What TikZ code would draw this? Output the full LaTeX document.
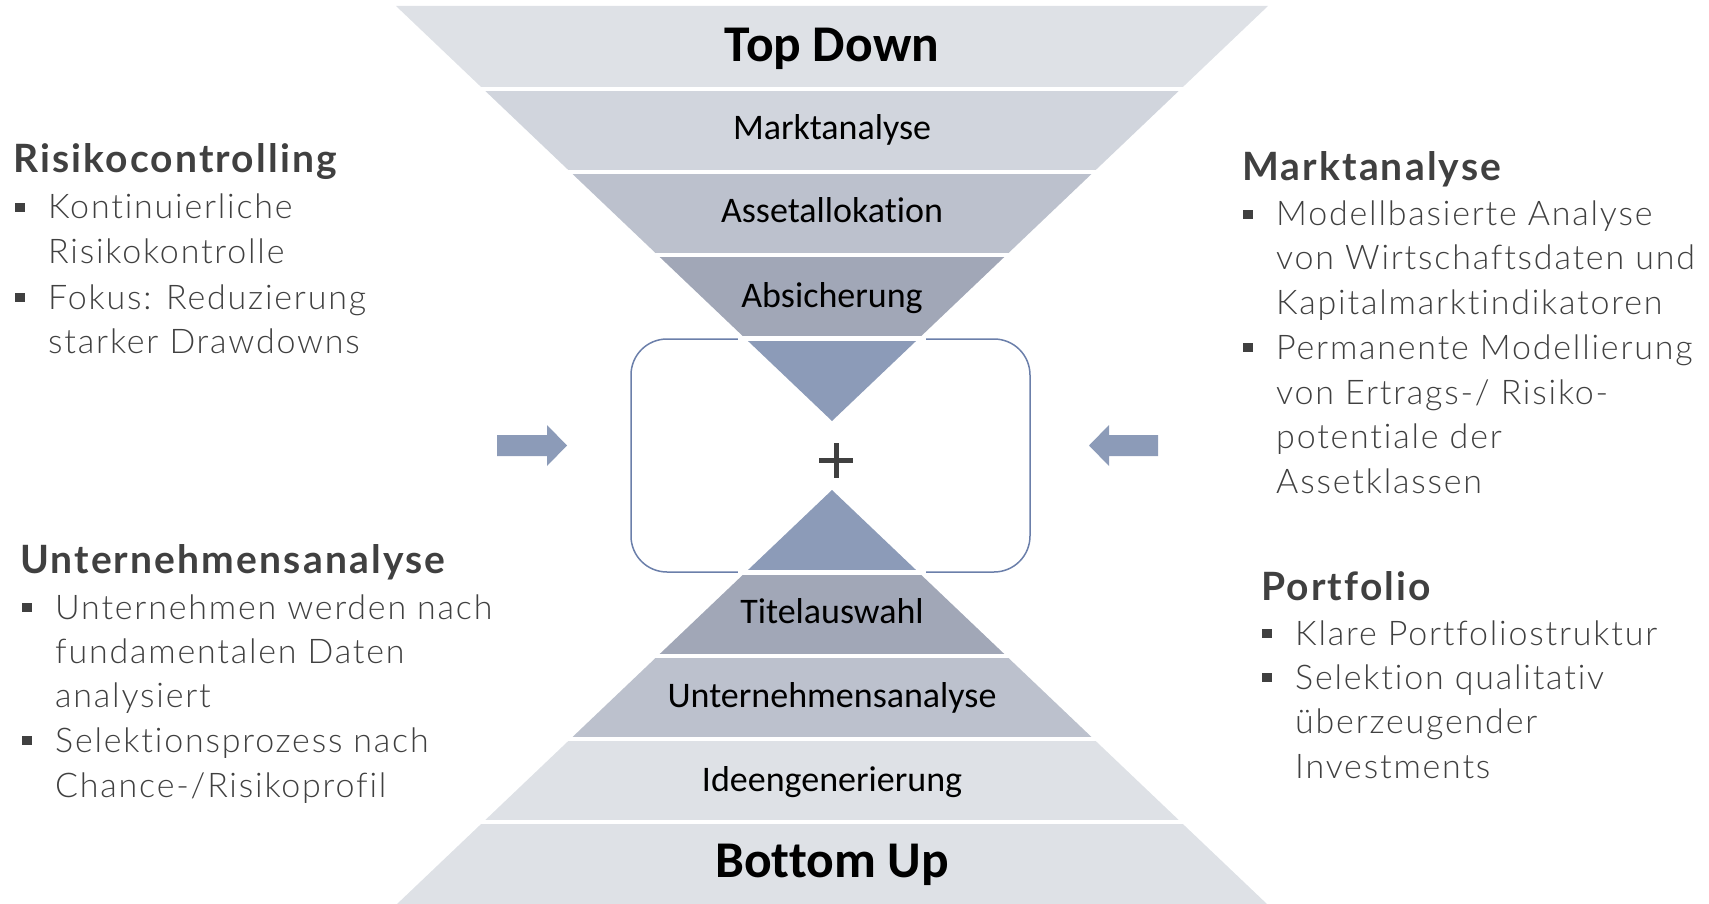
\documentclass[tikz,border=0pt]{standalone}
\usepackage{fontspec}
\newfontfamily\calfont{Carlito}[Ligatures=NoCommon]
\IfFontExistsTF{Lato Light}{\newfontfamily\bodyfont{Lato Light}[LetterSpace=5.3,Ligatures=NoCommon]}{\newfontfamily\bodyfont{Lato}[LetterSpace=5.3,Ligatures=NoCommon]}
\newfontfamily\headfont{Lato}[LetterSpace=5.5,Ligatures=NoCommon]
\definecolor{bandA}{HTML}{DEE1E6}
\definecolor{bandB}{HTML}{D1D5DD}
\definecolor{bandC}{HTML}{BCC1CD}
\definecolor{bandD}{HTML}{A1A7B7}
\definecolor{bandE}{HTML}{8C9BB8}
\definecolor{boxline}{HTML}{6B7FAA}
\definecolor{txt}{HTML}{404040}
\tikzset{
  bandtext/.style={anchor=base, font={\calfont\fontsize{36}{40}\selectfont}, text=black, inner sep=0pt},
  bigtext/.style={anchor=base, font={\calfont\bfseries\fontsize{51.5}{56}\selectfont}, text=black, inner sep=0pt},
  head/.style={anchor=base west, font={\headfont\bfseries\fontsize{39}{42}\selectfont}, text=txt, inner sep=0pt},
  item/.style={anchor=base west, font={\bodyfont\fontsize{34}{40}\selectfont}, text=txt, inner sep=0pt},
  bullet/.style={fill=txt, minimum size=9.5pt, inner sep=0pt, outer sep=0pt},
  sep/.style={white, line width=4.5pt},
  blockarrow/.style={fill=bandE}
}
\begin{document}
\begin{tikzpicture}[x=1pt, y=-1pt]
\useasboundingbox (0,0) rectangle (1709,904);

% central rounded box
\draw[boxline, line width=1.5pt, rounded corners=36pt] (631,339) rectangle (1030,572);

% top inverted pyramid
\fill[bandA] (396,6) -- (1268,6) -- (1180.8,89) -- (483.2,89) -- cycle;
\fill[bandB] (483.2,89) -- (1180.8,89) -- (1093.6,172) -- (570.4,172) -- cycle;
\fill[bandC] (570.4,172) -- (1093.6,172) -- (1006.4,255) -- (657.6,255) -- cycle;
\fill[bandD] (657.6,255) -- (1006.4,255) -- (919.2,338) -- (744.8,338) -- cycle;
\fill[bandE] (744.8,338) -- (919.2,338) -- (832,421) -- cycle;

% bottom pyramid
\fill[bandE] (832,490) -- (919.2,573) -- (744.8,573) -- cycle;
\fill[bandD] (744.8,573) -- (919.2,573) -- (1006.4,656) -- (657.6,656) -- cycle;
\fill[bandC] (657.6,656) -- (1006.4,656) -- (1093.6,739) -- (570.4,739) -- cycle;
\fill[bandA] (570.4,739) -- (1093.6,739) -- (1180.8,822) -- (483.2,822) -- cycle;
\fill[bandA] (483.2,822) -- (1180.8,822) -- (1268,905) -- (396,905) -- cycle;

% white separators
\draw[sep] (477,89) -- (1187,89);
\draw[sep] (564,172) -- (1100,172);
\draw[sep] (651,255) -- (1013,255);
\draw[sep] (738,338.5) -- (926,338.5);
\draw[sep] (738,572.5) -- (926,572.5);
\draw[sep] (651,656) -- (1013,656);
\draw[sep] (564,739) -- (1100,739);
\draw[sep] (477,822) -- (1187,822);

% band texts
\node[bigtext]  (td)  at (832,62)  {Top Down};
\node[bandtext] (ma)  at (832,140) {Marktanalyse};
\node[bandtext] (aa)  at (832,223) {Assetallokation};
\node[bandtext] (ab)  at (832,307) {Absicherung};
\node[bandtext] (ta)  at (832,623) {Titelauswahl};
\node[bandtext] (ua)  at (832,707) {Unternehmensanalyse};
\node[bandtext] (ig)  at (832,791) {Ideengenerierung};
\node[bigtext]  (bu)  at (832,877) {Bottom Up};

% plus sign
\fill[txt] (819,458) rectangle (853,463);
\fill[txt] (833.5,443) rectangle (838.5,478);

% block arrows
\fill[blockarrow] (497,435) -- (547,435) -- (547,425) -- (567,445.5) -- (547,466) -- (547,456) -- (497,456) -- cycle;
\fill[blockarrow] (1158,435) -- (1109,435) -- (1109,425) -- (1089,445.5) -- (1109,466) -- (1109,456) -- (1158,456) -- cycle;

% left top block
\node[head] (h1) at (13,173) {Risikocontrolling};
\node[bullet] (b11) at (20,207.5) {};
\node[item] (t11a) at (48,219) {Kontinuierliche};
\node[item] (t11b) at (48,264) {Risikokontrolle};
\node[bullet] (b12) at (20,297.5) {};
\node[item] (t12a) at (48,309) {Fokus: Reduzierung};
\node[item] (t12b) at (48,353) {starker Drawdowns};

% left bottom block
\node[head] (h2) at (20,573) {Unternehmensanalyse};
\node[bullet] (b21) at (27,607.5) {};
\node[item] (t21a) at (55,619) {Unternehmen werden nach};
\node[item] (t21b) at (55,663) {fundamentalen Daten};
\node[item] (t21c) at (55,707) {analysiert};
\node[bullet] (b22) at (27,740.5) {};
\node[item] (t22a) at (55,752) {Selektionsprozess nach};
\node[item] (t22b) at (55,797) {Chance-/Risikoprofil};

% right top block
\node[head] (h3) at (1242,181) {Marktanalyse};
\node[bullet] (b31) at (1248,214.5) {};
\node[item] (t31a) at (1276,226) {Modellbasierte Analyse};
\node[item] (t31b) at (1276,270) {von Wirtschaftsdaten und};
\node[item] (t31c) at (1276,315) {Kapitalmarktindikatoren};
\node[bullet] (b32) at (1248,347.5) {};
\node[item] (t32a) at (1276,359) {Permanente Modellierung};
\node[item] (t32b) at (1276,404) {von Ertrags-/ Risiko-};
\node[item] (t32c) at (1276,448) {potentiale der};
\node[item] (t32d) at (1276,493) {Assetklassen};

% right bottom block
\node[head] (h4) at (1261,600) {Portfolio};
\node[bullet] (b41) at (1267,633.5) {};
\node[item] (t41a) at (1295,645) {Klare Portfoliostruktur};
\node[bullet] (b42) at (1267,677.5) {};
\node[item] (t42a) at (1295,689) {Selektion qualitativ};
\node[item] (t42b) at (1295,733) {überzeugender};
\node[item] (t42c) at (1295,778) {Investments};
\end{tikzpicture}
\end{document}
